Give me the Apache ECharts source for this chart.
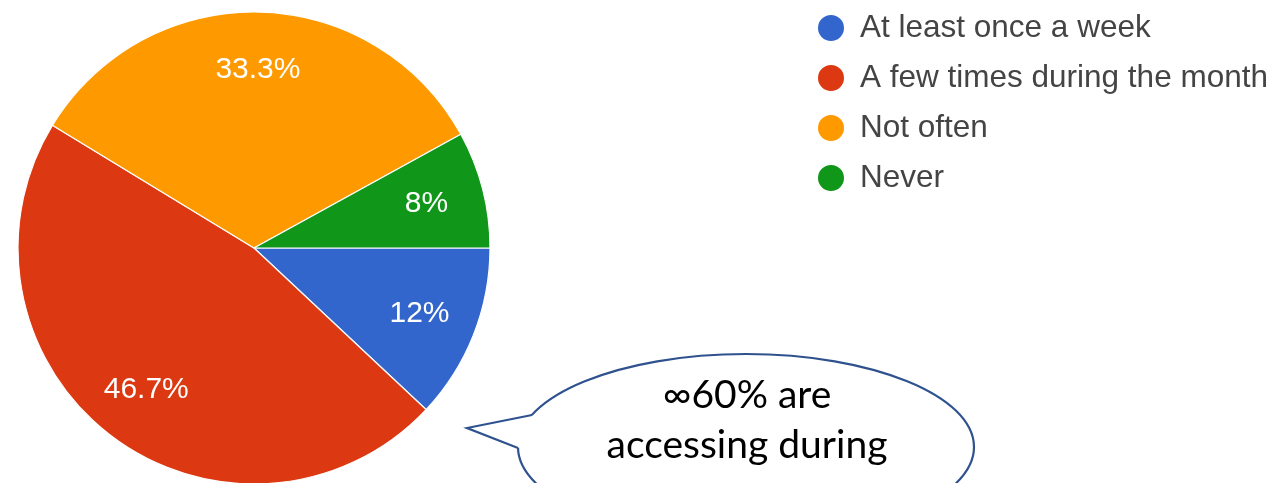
<!DOCTYPE html>
<html>
<head>
<meta charset="utf-8">
<script src="https://cdn.jsdelivr.net/npm/echarts@6/dist/echarts.min.js"></script>
<style>
html,body{margin:0;padding:0;background:#fff;}
#chart{width:1280px;height:483px;}
</style>
</head>
<body>
<div id="chart"></div>
<script>
const categories = ['At least once a week', 'A few times during the month', 'Not often', 'Never'];
const values = [12, 46.7, 33.3, 8];
const sliceColors = ['#3366cc', '#dc3912', '#ff9900', '#109618'];
const calloutLines = ['\u221e60% are', 'accessing during'];

const pieData = categories.map((name, i) => ({ name: name, value: values[i], itemStyle: { color: sliceColors[i] } }));
const labelData = categories.map((name, i) => ({ name: name, value: values[i] }));

const chart = echarts.init(document.getElementById('chart'), null, { renderer: 'canvas' });

const option = {
  backgroundColor: '#ffffff',
  animation: false,
  legend: {
    orient: 'vertical',
    left: 811,
    top: 7,
    icon: 'circle',
    itemWidth: 28,
    itemHeight: 28,
    itemGap: 18,
    data: categories,
    textStyle: {
      fontFamily: 'Liberation Sans, Arial, sans-serif',
      fontSize: 31.5,
      lineHeight: 28,
      color: '#444444',
      padding: [0, 0, 0, 10]
    }
  },
  series: [
    {
      type: 'pie',
      center: [254, 248],
      radius: [0, 236],
      startAngle: 0,
      clockwise: true,
      silent: true,
      label: { show: false },
      labelLine: { show: false },
      itemStyle: { borderColor: '#ffffff', borderWidth: 1.2 },
      data: pieData
    },
    {
      type: 'pie',
      center: [254, 248],
      radius: [114, 236],
      startAngle: 0,
      clockwise: true,
      silent: true,
      itemStyle: { color: 'rgba(0,0,0,0)', borderWidth: 0 },
      label: {
        show: true,
        position: 'inside',
        formatter: p => p.value + '%',
        color: '#ffffff',
        fontFamily: 'Liberation Sans, Arial, sans-serif',
        fontSize: 30
      },
      labelLine: { show: false },
      data: labelData
    }
  ],
  graphic: [
    {
      type: 'ellipse',
      shape: { cx: 746, cy: 447, rx: 228, ry: 93 },
      style: { fill: '#ffffff', stroke: '#2f528f', lineWidth: 2.2 },
      z: 10
    },
    {
      type: 'polygon',
      shape: { points: [[532, 415], [467, 428], [518, 448], [534, 440], [536, 420]] },
      style: { fill: '#ffffff', stroke: null },
      z: 11
    },
    {
      type: 'polyline',
      shape: { points: [[532, 415], [467, 428], [518, 448]] },
      style: { stroke: '#2f528f', lineWidth: 2.2, fill: null },
      z: 12
    },
    {
      type: 'text',
      x: 747,
      y: 370,
      style: {
        text: calloutLines.join('\n'),
        textAlign: 'center',
        fill: '#000000',
        font: '39px Lato, Carlito, Calibri, sans-serif',
        lineHeight: 50
      },
      z: 13
    }
  ]
};
chart.setOption(option);
</script>
</body>
</html>
